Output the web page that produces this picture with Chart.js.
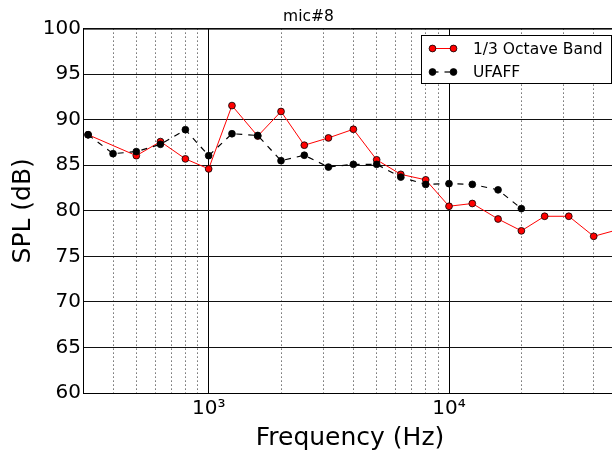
<!DOCTYPE html>
<html>
<head>
<meta charset="utf-8">
<script src="https://cdn.jsdelivr.net/npm/chart.js@4.4.1/dist/chart.umd.min.js"></script>
<style>
    html, body { margin: 0; padding: 0; background: #fff; overflow: hidden; }
    #wrap { width: 630px; height: 456px; }
</style>
</head>
<body>
<div id="wrap"><canvas id="chart" width="630" height="456"></canvas></div>
<script>
    // 1/3 octave band spectrum
    const bandFreqs = [315, 500, 630, 800, 1000, 1250, 1600, 2000, 2500, 3150, 4000, 5000, 6300, 8000, 10000, 12500, 16000, 20000, 25000, 31500, 40000, 50000];
    const bandSpl = [88.35, 86.05, 87.6, 85.7, 84.6, 91.55, 88.2, 90.9, 87.2, 88.0, 88.95, 85.6, 84.0, 83.4, 80.5, 80.8, 79.1, 77.8, 79.4, 79.4, 77.2, 77.9];

    // UFAFF spectrum
    const ufaffFreqs = [315, 400, 500, 630, 800, 1000, 1250, 1600, 2000, 2500, 3150, 4000, 5000, 6300, 8000, 10000, 12500, 16000, 20000];
    const ufaffSpl = [88.35, 86.27, 86.5, 87.3, 88.9, 86.05, 88.46, 88.27, 85.5, 86.1, 84.8, 85.1, 85.1, 83.7, 82.9, 82.98, 82.9, 82.3, 80.24];

    // axis ticks
    const xGridValues = [300, 400, 500, 600, 700, 800, 900, 1000, 2000, 3000, 4000, 5000, 6000, 7000, 8000, 9000, 10000, 20000, 30000, 40000, 50000];
    const xMajorLabels = { 1000: '10³', 10000: '10⁴' };
    const yTicks = [60, 65, 70, 75, 80, 85, 90, 95, 100];

    const seriesNames = ['1/3 Octave Band', 'UFAFF'];
    const FONT = 'DejaVu Sans';

    function toPoints(xs, ys) {
        return xs.map((x, i) => ({ x: x, y: ys[i] }));
    }

    // frame on top/right like matplotlib axes box
    const framePlugin = {
        id: 'frame',
        afterDraw(chart) {
            const a = chart.chartArea;
            const ctx = chart.ctx;
            ctx.save();
            ctx.strokeStyle = '#000';
            ctx.lineWidth = 1;
            ctx.strokeRect(a.left + 0.5, a.top + 0.5, a.right - a.left, a.bottom - a.top);
            ctx.restore();
        }
    };

    // legend with two-point line samples
    const legendPlugin = {
        id: 'mplLegend',
        afterDraw(chart) {
            const ctx = chart.ctx;
            const box = { x: 421.5, y: 35.5, w: 190, h: 48 };
            ctx.save();
            ctx.fillStyle = '#fff';
            ctx.strokeStyle = '#000';
            ctx.lineWidth = 1;
            ctx.fillRect(box.x, box.y, box.w, box.h);
            ctx.strokeRect(box.x, box.y, box.w, box.h);

            chart.data.datasets.forEach((ds, i) => {
                const y = 48.5 + i * 23.5;
                const x0 = 432.5, x1 = 453.5;
                ctx.strokeStyle = ds.borderColor;
                ctx.lineWidth = ds.borderWidth;
                ctx.setLineDash(ds.borderDash || []);
                ctx.beginPath();
                ctx.moveTo(x0, y);
                ctx.lineTo(x1, y);
                ctx.stroke();
                ctx.setLineDash([]);
                [x0, x1].forEach(px => {
                    ctx.beginPath();
                    ctx.arc(px, y, ds.pointRadius, 0, Math.PI * 2);
                    ctx.fillStyle = ds.pointBackgroundColor;
                    ctx.fill();
                    ctx.lineWidth = ds.pointBorderWidth;
                    ctx.strokeStyle = ds.pointBorderColor;
                    ctx.stroke();
                });
                ctx.fillStyle = '#000';
                ctx.font = '15.5px "' + FONT + '"';
                ctx.textBaseline = 'middle';
                ctx.fillText(ds.label, 473, y + 1);
            });
            ctx.restore();
        }
    };

    new Chart(document.getElementById('chart'), {
        type: 'line',
        data: {
            datasets: [
                {
                    label: seriesNames[0],
                    data: toPoints(bandFreqs, bandSpl),
                    borderColor: '#ff0000',
                    borderWidth: 1,
                    pointRadius: 3.4,
                    pointBackgroundColor: '#ff0000',
                    pointBorderColor: '#000',
                    pointBorderWidth: 0.8,
                    tension: 0,
                    order: 2
                },
                {
                    label: seriesNames[1],
                    data: toPoints(ufaffFreqs, ufaffSpl),
                    borderColor: '#000',
                    borderWidth: 1.2,
                    borderDash: [6, 6],
                    pointRadius: 3.4,
                    pointBackgroundColor: '#000',
                    pointBorderColor: '#000',
                    pointBorderWidth: 0.8,
                    tension: 0,
                    order: 1
                }
            ]
        },
        options: {
            responsive: false,
            animation: false,
            events: [],
            layout: { padding: { left: 0, right: 13, top: 0, bottom: 0 } },
            plugins: {
                legend: { display: false },
                tooltip: { enabled: false },
                title: {
                    display: true,
                    text: 'mic#8',
                    color: '#000',
                    font: { family: FONT, size: 15.5, weight: 'normal' },
                    padding: { top: 8, bottom: 2 }
                }
            },
            scales: {
                x: {
                    type: 'logarithmic',
                    min: 300,
                    max: 50000,
                    afterBuildTicks(scale) {
                        scale.ticks = xGridValues.map(v => ({ value: v, major: v in xMajorLabels }));
                    },
                    afterFit(scale) { scale.height = 63; },
                    ticks: {
                        autoSkip: false,
                        maxRotation: 0,
                        color: '#000',
                        padding: 4,
                        font: { family: FONT, size: 20 },
                        callback: v => xMajorLabels[v] || ''
                    },
                    grid: {
                        drawTicks: false,
                        color: ctx => (ctx.tick && xMajorLabels[ctx.tick.value]) ? '#000' : '#222',
                        lineWidth: 1
                    },
                    border: {
                        display: true,
                        color: '#000',
                        dash: ctx => (ctx.tick && !xMajorLabels[ctx.tick.value]) ? [1, 3] : []
                    },
                    title: {
                        display: true,
                        text: 'Frequency (Hz)',
                        color: '#000',
                        font: { family: FONT, size: 25 },
                        padding: { top: 0, bottom: 3 }
                    }
                },
                y: {
                    min: 60,
                    max: 100,
                    afterBuildTicks(scale) {
                        scale.ticks = yTicks.map(v => ({ value: v }));
                    },
                    afterFit(scale) { scale.width = 83; },
                    ticks: {
                        color: '#000',
                        padding: 2,
                        font: { family: FONT, size: 20 }
                    },
                    grid: {
                        drawTicks: false,
                        color: '#111',
                        lineWidth: 1
                    },
                    border: { display: true, color: '#000' },
                    title: {
                        display: true,
                        text: 'SPL (dB)',
                        color: '#000',
                        font: { family: FONT, size: 25 },
                        padding: { top: 8, bottom: 0 }
                    }
                }
            }
        },
        plugins: [framePlugin, legendPlugin]
    });
</script>
</body>
</html>
